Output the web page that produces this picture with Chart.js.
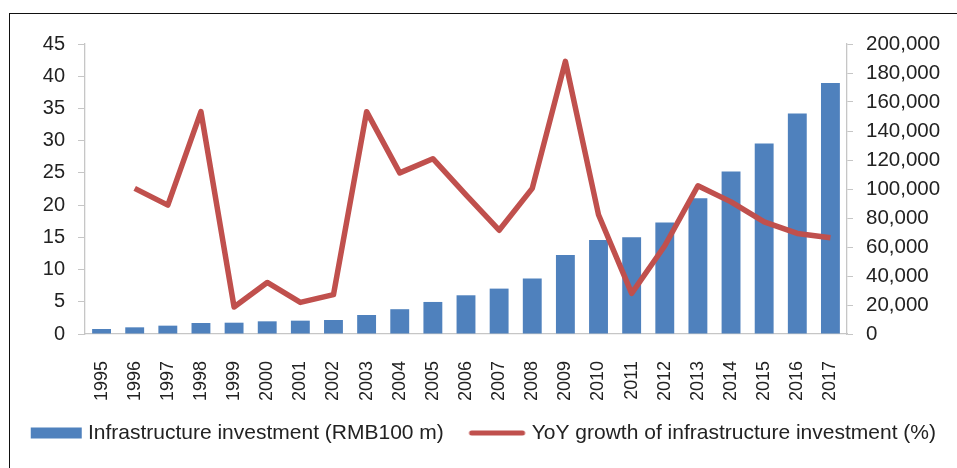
<!DOCTYPE html>
<html>
<head>
<meta charset="utf-8">
<script src="https://cdn.jsdelivr.net/npm/chart.js@4.4.1/dist/chart.umd.min.js"></script>
<style>
  html, body { margin: 0; padding: 0; background: #fff; }
  #wrap { position: relative; width: 957px; height: 468px; overflow: hidden; }
  #frame { position: absolute; left: 9px; top: 13px; width: 1000px; height: 500px;
           border-left: 1.5px solid #111; border-top: 1.5px solid #111; pointer-events: none; }
  canvas { position: absolute; left: 0; top: 0; }
</style>
</head>
<body>
<div id="wrap">
  <canvas id="c" width="957" height="468"></canvas>
  <div id="frame"></div>
</div>
<script>
const years = ['1995','1996','1997','1998','1999','2000','2001','2002','2003','2004','2005','2006',
               '2007','2008','2009','2010','2011','2012','2013','2014','2015','2016','2017'];
const investment = [3450, 4600, 5750, 7600, 7800, 8740, 9200, 9650, 13100, 17100, 22100, 26700,
                    31300, 38300, 54500, 64800, 66800, 76900, 93600, 112000, 131300, 152000, 173100];
const yoyGrowth = [null, 22.6, 20.0, 34.5, 4.2, 8.0, 4.9, 6.1, 34.5, 25.0, 27.2, 21.6,
                   16.1, 22.6, 42.3, 18.5, 6.3, 13.7, 23.0, 20.5, 17.4, 15.6, 14.95];
const leftTicks = { min: 0, max: 45, step: 5 };
const rightTicks = { min: 0, max: 200000, step: 20000 };
const seriesNames = ['Infrastructure investment (RMB100 m)', 'YoY growth of infrastructure investment (%)'];

const BLUE = '#4F81BD';
const RED = '#C0504D';
const AXIS = '#C6C6C6';
const TEXT = '#222222';
const FONT = "'Liberation Sans', Arial, sans-serif";

function swatch(color, offset, w, h) {
  const cv = document.createElement('canvas');
  cv.width = 120; cv.height = 12;
  const g = cv.getContext('2d');
  g.fillStyle = color;
  g.fillRect(offset, (12 - h) / 2, w, h);
  return cv;
}
const blueSwatch = swatch(BLUE, 47, 51, 11);
const redSwatch = (function () {
  const cv = document.createElement('canvas');
  cv.width = 120; cv.height = 12;
  const g = cv.getContext('2d');
  g.strokeStyle = RED; g.lineWidth = 5; g.lineCap = 'round';
  g.beginPath(); g.moveTo(44, 6); g.lineTo(95, 6); g.stroke();
  return cv;
})();

new Chart(document.getElementById('c'), {
  data: {
    labels: years,
    datasets: [
      {
        type: 'bar',
        label: seriesNames[0],
        data: investment,
        yAxisID: 'yR',
        backgroundColor: BLUE,
        borderWidth: 0,
        barPercentage: 0.57,
        categoryPercentage: 1.0,
        order: 2
      },
      {
        type: 'line',
        label: seriesNames[1],
        data: yoyGrowth,
        yAxisID: 'yL',
        borderColor: RED,
        backgroundColor: RED,
        borderWidth: 5.5,
        pointRadius: 0,
        pointHoverRadius: 0,
        tension: 0,
        borderJoinStyle: 'round',
        spanGaps: false,
        order: 1
      }
    ]
  },
  options: {
    responsive: false,
    animation: false,
    devicePixelRatio: 1,
    layout: { padding: { left: 0, right: 0, top: 44, bottom: 14.5 } },
    plugins: {
      tooltip: { enabled: false },
      legend: {
        position: 'bottom',
        align: 'start',
        labels: {
          font: { family: FONT, size: 21 },
          color: TEXT,
          padding: 10,
          usePointStyle: true,
          pointStyleWidth: 67.4,
          sort: (a, b) => a.datasetIndex - b.datasetIndex,
          generateLabels: (chart) => chart.data.datasets.map((ds, i) => ({
            text: ds.label,
            datasetIndex: i,
            fillStyle: ds.type === 'bar' ? BLUE : RED,
            strokeStyle: 'transparent',
            lineWidth: 0,
            pointStyle: ds.type === 'bar' ? blueSwatch : redSwatch,
            hidden: false,
            fontColor: TEXT
          }))
        }
      }
    },
    scales: {
      x: {
        type: 'category',
        grid: { display: false },
        border: { display: true, color: AXIS, width: 1.3 },
        ticks: {
          font: { family: FONT, size: 18 },
          color: TEXT,
          minRotation: 90,
          maxRotation: 90,
          autoSkip: false,
          padding: 19
        },
        afterFit: (s) => { s.height = 78.5; }
      },
      yL: {
        type: 'linear',
        position: 'left',
        min: leftTicks.min,
        max: leftTicks.max,
        grid: { display: true, drawOnChartArea: false, drawTicks: true, tickLength: 7, color: AXIS, tickColor: AXIS, tickWidth: 1 },
        border: { display: true, color: AXIS, width: 1.3 },
        ticks: {
          stepSize: leftTicks.step,
          font: { family: FONT, size: 20 },
          color: TEXT,
          padding: 13
        },
        afterFit: (s) => { s.width = 85; }
      },
      yR: {
        type: 'linear',
        position: 'right',
        min: rightTicks.min,
        max: rightTicks.max,
        grid: { display: true, drawOnChartArea: false, drawTicks: true, tickLength: 6, color: AXIS, tickColor: AXIS, tickWidth: 1 },
        border: { display: true, color: AXIS, width: 1.3 },
        ticks: {
          stepSize: rightTicks.step,
          font: { family: FONT, size: 20.5 },
          color: TEXT,
          padding: 13,
          callback: (v) => Number(v).toLocaleString('en-US')
        },
        afterFit: (s) => { s.width = 110; }
      }
    }
  }
});
</script>
</body>
</html>
